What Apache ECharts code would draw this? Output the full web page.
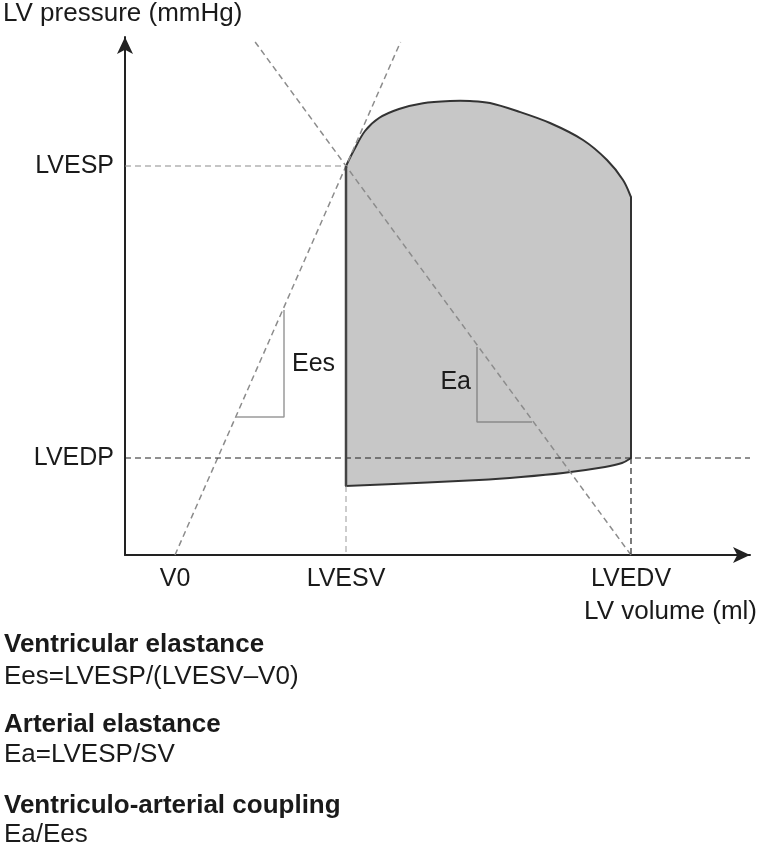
<!DOCTYPE html>
<html><head><meta charset="utf-8">
<script src="https://cdn.jsdelivr.net/npm/echarts@6/dist/echarts.min.js"></script>
<style>html,body{margin:0;padding:0;background:#fff}#c{width:760px;height:846px}</style>
</head><body><div id="c"></div>
<script>
// ---- data (arbitrary schematic units) ----
const volumeTicks = [50, 221, 506];
const volumeTickLabels = ['V0', 'LVESV', 'LVEDV'];
const pressureTicks = [97, 389];
const pressureTickLabels = ['LVEDP', 'LVESP'];
const V0 = 50, LVESV = 221, LVEDV = 506, LVESP = 389, LVEDP = 97;
const xMax = 625, yMax = 518;
// upper (ejection) boundary of the loop, from end-systole to end-diastole side
const loopTop = [[221,389],[229,405],[240,424],[254,437],[274,446],[298,451.8],[325,454],[345,454],[365,452],[392,444],[425,432],[458,415],[482,395],[498,375],[506,358]];
// lower (filling) boundary, from end-diastole back to end-systole side
const loopBottom = [[506,97],[497,92],[480,88],[438,82],[396,78],[354,75],[291,72],[221,69]];
const espvrTopY = 513;
const eaTopY = 515;
const eesTriangle = [[111,138],[159,138],[159,245]];
const eaTriangle = [[352,208],[352,133],[407,133]];
const annotations = [
  {x: 167, y: 191, text: 'Ees', align: 'left'},
  {x: 346, y: 173, text: 'Ea', align: 'right'}
];
const formulaLines = [
  {text: 'Ventricular elastance', bold: true},
  {text: 'Ees=LVESP/(LVESV\u2013V0)', bold: false},
  {text: 'Arterial elastance', bold: true},
  {text: 'Ea=LVESP/SV', bold: false},
  {text: 'Ventriculo-arterial coupling', bold: true},
  {text: 'Ea/Ees', bold: false}
];
const formulaY = [645, 677, 725, 755, 806, 835];

const FONT = '"Liberation Sans", Arial, Helvetica, sans-serif';
const TXT = '#1a1a1a';

const espvrLine = [[V0, 0], [V0 + espvrTopY * (LVESV - V0) / LVESP, espvrTopY]];
const eaLine = [[LVEDV, 0], [LVEDV - eaTopY * (LVEDV - LVESV) / LVESP, eaTopY]];

function catmull(pts) {
  let s = '';
  for (let i = 0; i < pts.length - 1; i++) {
    const p0 = pts[Math.max(i - 1, 0)], p1 = pts[i], p2 = pts[i + 1], p3 = pts[Math.min(i + 2, pts.length - 1)];
    const c1 = [p1[0] + (p2[0] - p0[0]) / 6, p1[1] + (p2[1] - p0[1]) / 6];
    const c2 = [p2[0] - (p3[0] - p1[0]) / 6, p2[1] - (p3[1] - p1[1]) / 6];
    s += ' C' + c1[0] + ' ' + c1[1] + ' ' + c2[0] + ' ' + c2[1] + ' ' + p2[0] + ' ' + p2[1];
  }
  return s;
}

const chart = echarts.init(document.getElementById('c'), null, {renderer: 'canvas'});

function dashed(data, color, width) {
  return {
    type: 'line', data: data, showSymbol: false, symbol: 'none', silent: true, z: 5,
    lineStyle: {color: color, width: width, type: [6, 4]}
  };
}
function solid(data, color, width) {
  return {
    type: 'line', data: data, showSymbol: false, symbol: 'none', silent: true, z: 5,
    lineStyle: {color: color, width: width, type: 'solid'}
  };
}

const option = {
  animation: false,
  backgroundColor: '#fff',
  grid: {left: 125, right: 10, top: 37, bottom: 291, containLabel: false, outerBoundsMode: 'none'},
  xAxis: {
    type: 'value', min: 0, max: xMax,
    splitLine: {show: false}, axisTick: {show: false},
    axisLine: {show: true, onZero: false, symbol: ['none', 'arrow'], symbolSize: [12, 17], lineStyle: {color: '#222', width: 2}},
    axisLabel: {
      customValues: volumeTicks,
      formatter: function (v) { const i = volumeTicks.indexOf(v); return i >= 0 ? volumeTickLabels[i] : ''; },
      fontSize: 25, fontFamily: FONT, color: TXT, margin: 12
    }
  },
  yAxis: {
    type: 'value', min: 0, max: yMax,
    splitLine: {show: false}, axisTick: {show: false},
    axisLine: {show: true, onZero: false, symbol: ['none', 'arrow'], symbolSize: [12, 17], lineStyle: {color: '#222', width: 2}},
    axisLabel: {
      customValues: pressureTicks,
      formatter: function (v) { const i = pressureTicks.indexOf(v); return i >= 0 ? pressureTickLabels[i] : ''; },
      fontSize: 25, fontFamily: FONT, color: TXT, margin: 11
    }
  },
  series: [
    {
      type: 'custom', silent: true, z: 2, data: [0],
      renderItem: function (params, api) {
        const top = loopTop.map(p => api.coord(p));
        const bot = loopBottom.map(p => api.coord(p));
        let d = 'M' + top[0][0] + ' ' + top[0][1] + catmull(top);
        d += ' L' + bot[0][0] + ' ' + bot[0][1] + catmull(bot) + ' Z';
        return {
          type: 'path', shape: {pathData: d},
          style: {fill: '#c7c7c7', stroke: '#333', lineWidth: 2}
        };
      }
    },
    dashed(espvrLine, '#8c8c8c', 1.5),
    dashed(eaLine, '#8c8c8c', 1.5),
    dashed([[0, LVESP], [LVESV, LVESP]], '#8c8c8c', 1.2),
    dashed([[0, LVEDP], [xMax, LVEDP]], '#222', 1.2),
    dashed([[LVEDV, LVEDP], [LVEDV, 0]], '#222', 1.2),
    dashed([[LVESV, loopBottom[loopBottom.length - 1][1]], [LVESV, 0]], '#999', 1),
    solid([[LVESV, loopBottom[loopBottom.length - 1][1]], [LVESV, LVESP]], '#444', 2.5),
    solid(eesTriangle, '#9a9a9a', 1.5),
    solid(eaTriangle, '#8a8a8a', 1.5),
    {
      type: 'custom', silent: true, z: 6, data: annotations.map((a, i) => i),
      renderItem: function (params, api) {
        const a = annotations[params.dataIndex];
        const p = api.coord([a.x, a.y]);
        return {
          type: 'text', x: p[0], y: p[1],
          style: {text: a.text, fontSize: 25, fontFamily: FONT, fill: TXT, align: a.align, verticalAlign: 'middle'}
        };
      }
    }
  ],
  graphic: [
    {type: 'text', x: 3, y: 14, style: {text: 'LV pressure (mmHg)', fontSize: 26, fontFamily: FONT, fill: TXT, align: 'left', verticalAlign: 'middle'}},
    {type: 'text', x: 757, y: 612, style: {text: 'LV volume (ml)', fontSize: 26, fontFamily: FONT, fill: TXT, align: 'right', verticalAlign: 'middle'}}
  ].concat(formulaLines.map((l, i) => ({
    type: 'text', x: 4, y: formulaY[i],
    style: {text: l.text, fontSize: 26, fontFamily: FONT, fontWeight: l.bold ? 'bold' : 'normal', fill: TXT, align: 'left', verticalAlign: 'middle'}
  })))
};
chart.setOption(option);
</script>
</body></html>
